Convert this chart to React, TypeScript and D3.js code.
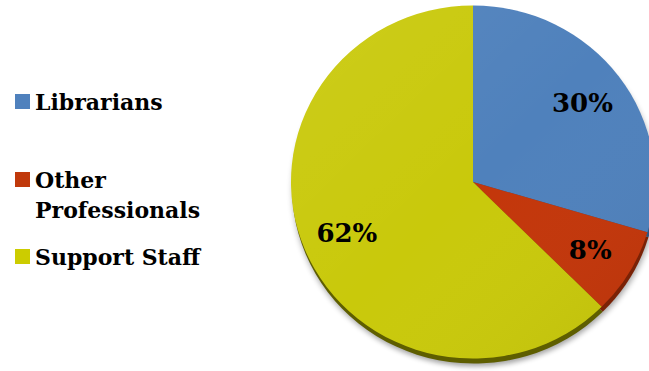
import React from "react";
import * as d3 from "d3";

const categories = ["Librarians", "Other Professionals", "Support Staff"];
const values = [29.6, 7.9, 62.5];
const percentLabels = ["30%", "8%", "62%"];
const colors = ["#4f81bc", "#c3360a", "#c9c90b"];
const sideColors = ["#2f5580", "#7a2206", "#5e5e00"];
const legendColors = ["#4f81bd", "#c0390b", "#cccc00"];
const legendLines = [["Librarians"], ["Other", "Professionals"], ["Support Staff"]];

const W = 649;
const H = 371;
const cx = 473;
const cy = 182;
const R = 182;
const sy = 0.97;

export default function App() {
  const pie = d3.pie<number>().sort(null).value((d) => d)(values);
  const arc = d3.arc<d3.PieArcDatum<number>>().innerRadius(0).outerRadius(R);
  const labelArc = d3.arc<d3.PieArcDatum<number>>().innerRadius(R * 0.5).outerRadius(R);

  const legendY = [110, 188, 265];
  const font = "'DejaVu Serif', serif";

  return (
    <svg width={W} height={H} style={{ position: "absolute", left: 0, top: 0 }}>
      <defs>
        <filter id="blur" x="-20%" y="-20%" width="140%" height="140%">
          <feGaussianBlur stdDeviation="3" />
        </filter>
        <linearGradient id="shade" x1="0" y1="0" x2="1" y2="1">
          <stop offset="0" stopColor="#fff" stopOpacity="0.07" />
          <stop offset="0.5" stopColor="#fff" stopOpacity="0" />
          <stop offset="1" stopColor="#000" stopOpacity="0.06" />
        </linearGradient>
      </defs>
      <rect width={W} height={H} fill="#fff" />
      {/* shadow */}
      <g transform={`translate(${cx + 2},${cy + 8}) scale(1,${sy})`}>
        <circle r={R} fill="#000" opacity={0.35} filter="url(#blur)" />
      </g>
      {/* side (extrusion) */}
      <g transform={`translate(${cx + 1},${cy + 5}) scale(1,${sy})`}>
        {pie.map((p, i) => (
          <path key={i} d={arc(p) || ""} fill={sideColors[i]} />
        ))}
      </g>
      {/* top */}
      <g transform={`translate(${cx},${cy}) scale(1,${sy})`}>
        {pie.map((p, i) => (
          <path key={i} d={arc(p) || ""} fill={colors[i]} />
        ))}
        <circle r={R} fill="url(#shade)" />
      </g>
      {pie.map((p, i) => {
        const [x, y] = labelArc.centroid(p);
        return (
          <text
            key={i}
            x={cx + x}
            y={cy + y * sy}
            dy="0.36em"
            textAnchor="middle"
            fontFamily={font}
            fontWeight="bold"
            fontSize={26}
            fill="#000"
          >
            {percentLabels[i]}
          </text>
        );
      })}
      {/* legend */}
      {categories.map((c, i) => (
        <g key={c}>
          <rect x={15} y={legendY[i] - 16} width={15} height={15} fill={legendColors[i]} />
          {legendLines[i].map((t, j) => (
            <text
              key={j}
              x={35}
              y={legendY[i] + j * 30}
              fontFamily={font}
              fontWeight="bold"
              fontSize={22}
              fill="#000"
            >
              {t}
            </text>
          ))}
        </g>
      ))}
    </svg>
  );
}
